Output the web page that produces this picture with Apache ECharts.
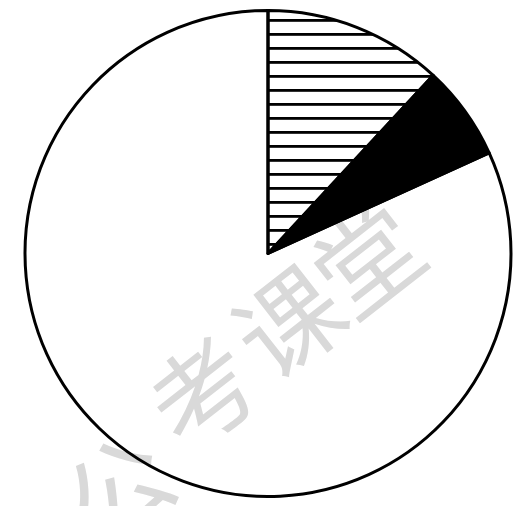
<!DOCTYPE html>
<html>
<head>
<meta charset="utf-8">
<script src="https://cdn.jsdelivr.net/npm/echarts@6/dist/echarts.min.js"></script>
<style>
html,body{margin:0;padding:0;background:#fff;}
#main{width:521px;height:506px;}
</style>
</head>
<body>
<div id="main"></div>
<script>
// Data (percent shares)
const categories = ['横线部分', '黑色部分', '空白部分'];
const values = [11.9, 6.3, 81.8];
const watermarkChars = ['公', '考', '课', '堂'];
const watermarkPos = [[118, 490], [203, 393], [289, 322], [368, 260]];

// hatch tile: horizontal lines every 14px
const tile = document.createElement('canvas');
tile.width = 14; tile.height = 14;
const tctx = tile.getContext('2d');
tctx.fillStyle = '#fff';
tctx.fillRect(0, 0, 14, 14);
tctx.fillStyle = '#000';
tctx.fillRect(0, 5, 14, 2.8);

const fills = [
  { image: tile, repeat: 'repeat' },
  '#000',
  'rgba(255,255,255,0)'
];

const chart = echarts.init(document.getElementById('main'), null, { renderer: 'canvas' });

const wmGraphics = watermarkChars.map((ch, i) => ({
  type: 'text',
  x: watermarkPos[i][0],
  y: watermarkPos[i][1],
  rotation: 38 * Math.PI / 180,
  z: 0,
  silent: true,
  style: {
    text: ch,
    fill: '#d9d9d9',
    font: 'normal 104px "Noto Sans CJK SC"',
    textAlign: 'center',
    textVerticalAlign: 'middle'
  }
}));

chart.setOption({
  backgroundColor: '#fff',
  animation: false,
  graphic: wmGraphics,
  series: [{
    type: 'pie',
    center: [268, 253.5],
    radius: [0, 243],
    startAngle: 90,
    clockwise: true,
    label: { show: false },
    labelLine: { show: false },
    emphasis: { disabled: true },
    silent: true,
    itemStyle: { borderColor: '#000', borderWidth: 3 },
    data: categories.map((c, i) => ({
      name: c,
      value: values[i],
      itemStyle: { color: fills[i] }
    }))
  }]
});
</script>
</body>
</html>
